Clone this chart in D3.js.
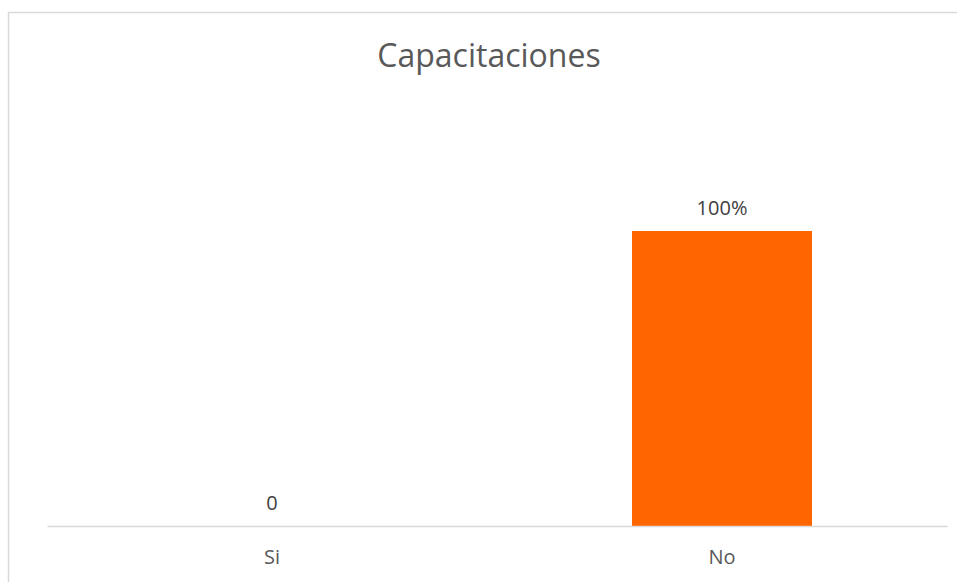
<!DOCTYPE html>
<html lang="es">
<head>
  <meta charset="UTF-8">
  <title>Capacitaciones</title>
  <style>
    body { margin: 0; background: #fff; }
    text { font-family: "Open Sans", Lato, sans-serif; }
  </style>
</head>
<body>
<div id="chart"></div>
<script src="https://d3js.org/d3.v7.min.js"></script>
<script>
  const categories = ["Si", "No"];
  const values = [0, 1];
  const valueLabels = ["0", "100%"];

  const W = 957, H = 582;
  const margin = {top: 172, right: 10, bottom: 56, left: 47};
  const width = 947 - margin.left;
  const height = H - margin.top - margin.bottom;
  const font = "'Open Sans', Lato, sans-serif";

  const svg = d3.select("#chart").append("svg")
    .attr("width", W)
    .attr("height", H);

  // chart border (runs off the right / bottom edge)
  svg.append("rect")
    .attr("x", 8.5).attr("y", 12.5)
    .attr("width", 1000).attr("height", 700)
    .attr("fill", "#fff")
    .attr("stroke", "#d9d9d9")
    .attr("stroke-width", 1.5);

  svg.append("text")
    .attr("x", 489)
    .attr("y", 67)
    .attr("text-anchor", "middle")
    .style("font-size", "32px")
    .attr("fill", "#595959")
    .text("Capacitaciones");

  const g = svg.append("g")
    .attr("transform", `translate(${margin.left},${margin.top})`);

  const x = d3.scaleBand()
    .domain(categories)
    .range([0, width])
    .paddingInner(0.6)
    .paddingOuter(0.3);

  const y = d3.scaleLinear()
    .domain([0, 1.2])
    .range([height, 0]);

  g.selectAll(".bar")
    .data(values)
    .enter().append("rect")
    .attr("class", "bar")
    .attr("x", (d, i) => x(categories[i]))
    .attr("y", d => y(d))
    .attr("width", x.bandwidth())
    .attr("height", d => height - y(d))
    .attr("fill", "#ff6600");

  const xAxis = g.append("g")
    .attr("transform", `translate(0,${height})`)
    .call(d3.axisBottom(x).tickSize(0).tickPadding(24));
  xAxis.select(".domain")
    .attr("stroke", "#d9d9d9")
    .attr("stroke-width", 1.5);
  xAxis.selectAll("text")
    .attr("fill", "#595959")
    .style("font-size", "20px")
    .style("font-family", font);

  g.selectAll(".label")
    .data(values)
    .enter().append("text")
    .attr("class", "label")
    .attr("x", (d, i) => x(categories[i]) + x.bandwidth() / 2)
    .attr("y", d => y(d) - 16)
    .attr("text-anchor", "middle")
    .attr("fill", "#404040")
    .style("font-size", "20px")
    .text((d, i) => valueLabels[i]);
</script>
</body>
</html>
